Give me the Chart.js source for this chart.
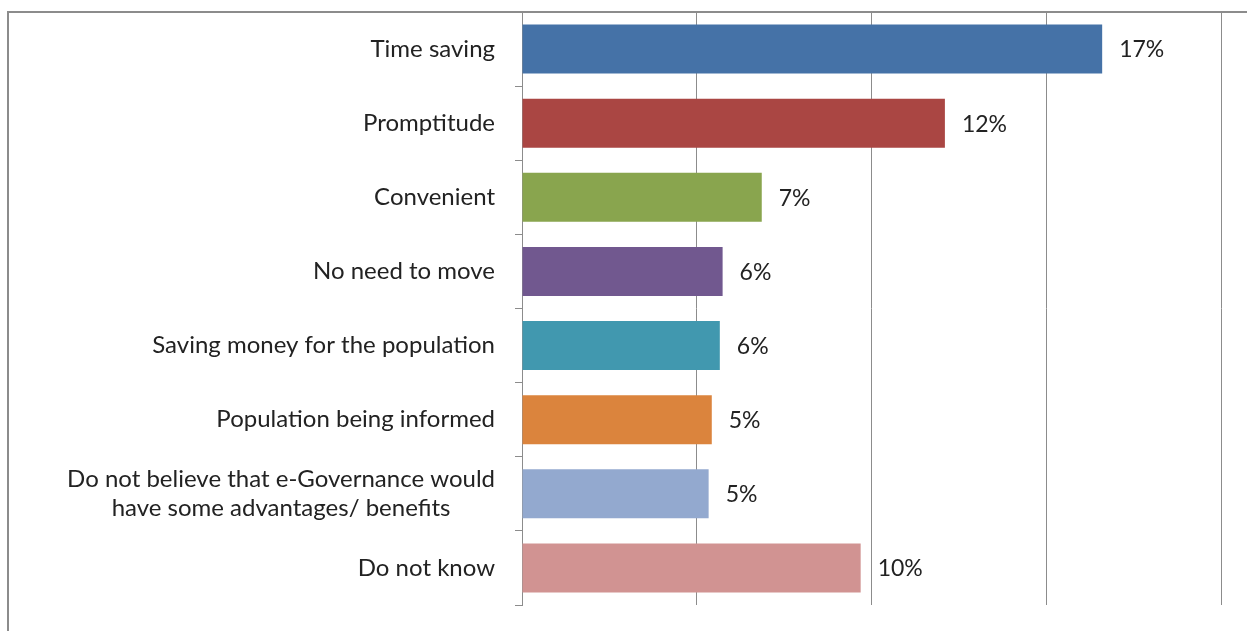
<!DOCTYPE html>
<html lang="en">
<head>
  <meta charset="UTF-8">
  <title>e-Governance benefits</title>
  <script src="https://cdn.jsdelivr.net/npm/chart.js"></script>
  <style>
    html, body { margin: 0; padding: 0; background: #fff; }
    .wrap { width: 1247px; height: 631px; position: relative; }
  </style>
</head>
<body>
<div class="wrap"><canvas id="benefitsChart"></canvas></div>

<script>
const categories = [
  'Time saving',
  'Promptitude',
  'Convenient',
  'No need to move',
  'Saving money for the population',
  'Population being informed',
  ['Do not believe that e-Governance would', 'have some advantages/ benefits'],
  'Do not know'
];
const shares = [16.6, 12.1, 6.86, 5.74, 5.66, 5.43, 5.34, 9.69];
const barColors = ['#4572A7', '#AA4643', '#89A54E', '#71588F', '#4198AF', '#DB843D', '#93A9CF', '#D19392'];
const xTicks = [0, 5, 10, 15, 20];

const FONT = 'Lato, "Open Sans", sans-serif';
const LABEL_RIGHT = 495;
const LINE_H = 29;

// outer frame (top + left edges visible, the rest is cut off)
const framePlugin = {
  id: 'frame',
  afterDraw(chart) {
    const ctx = chart.ctx;
    ctx.save();
    ctx.strokeStyle = '#8c8c8c';
    ctx.lineWidth = 2;
    ctx.beginPath();
    ctx.moveTo(8, 640);
    ctx.lineTo(8, 12);
    ctx.lineTo(1260, 12);
    ctx.stroke();
    ctx.restore();
  }
};

// category labels: drawn here so wrapped labels can be centred line by line
const categoryLabels = {
  id: 'categoryLabels',
  afterDraw(chart) {
    const ctx = chart.ctx;
    const yScale = chart.scales.y;
    ctx.save();
    ctx.font = '24px ' + FONT;
    ctx.fillStyle = '#222';
    ctx.textBaseline = 'middle';
    categories.forEach((lab, i) => {
      const y = yScale.getPixelForTick(i);
      if (Array.isArray(lab)) {
        const w = Math.max(...lab.map(s => ctx.measureText(s).width));
        const cx = LABEL_RIGHT - w / 2;
        ctx.textAlign = 'center';
        lab.forEach((s, k) => {
          ctx.fillText(s, cx, y + (k - (lab.length - 1) / 2) * LINE_H);
        });
      } else {
        ctx.textAlign = 'right';
        ctx.fillText(lab, LABEL_RIGHT, y);
      }
    });
    ctx.restore();
  }
};

// value labels next to each bar
const valueLabels = {
  id: 'valueLabels',
  afterDatasetsDraw(chart) {
    const ctx = chart.ctx;
    const meta = chart.getDatasetMeta(0);
    ctx.save();
    ctx.font = '23px ' + FONT;
    ctx.fillStyle = '#222';
    ctx.textBaseline = 'middle';
    ctx.textAlign = 'left';
    meta.data.forEach((bar, i) => {
      ctx.fillText(Math.round(shares[i]) + '%', bar.x + 17, bar.y + 1);
    });
    ctx.restore();
  }
};

new Chart(document.getElementById('benefitsChart'), {
  type: 'bar',
  data: {
    labels: categories,
    datasets: [{
      data: shares,
      backgroundColor: barColors,
      barPercentage: 0.66,
      categoryPercentage: 1
    }]
  },
  options: {
    indexAxis: 'y',
    responsive: true,
    maintainAspectRatio: false,
    animation: false,
    layout: { padding: { left: 8, top: 12, right: 26, bottom: 26 } },
    plugins: {
      legend: { display: false },
      tooltip: { enabled: false }
    },
    scales: {
      x: {
        min: 0,
        max: 20,
        afterBuildTicks(scale) { scale.ticks = xTicks.map(v => ({ value: v })); },
        afterFit(scale) { scale.height = 0; scale.paddingLeft = 0; scale.paddingRight = 0; },
        ticks: { display: false },
        grid: { color: '#8c8c8c', lineWidth: 1, drawTicks: false },
        border: { display: false }
      },
      y: {
        afterFit(scale) {
          scale.width = 514;
          scale.paddingTop = 0;
          scale.paddingBottom = 0;
        },
        ticks: { display: false },
        grid: { drawOnChartArea: false, drawTicks: true, tickLength: 7, color: '#8c8c8c', offset: true },
        border: { display: true, color: '#8c8c8c', width: 1 }
      }
    }
  },
  plugins: [framePlugin, categoryLabels, valueLabels]
});
</script>
</body>
</html>
